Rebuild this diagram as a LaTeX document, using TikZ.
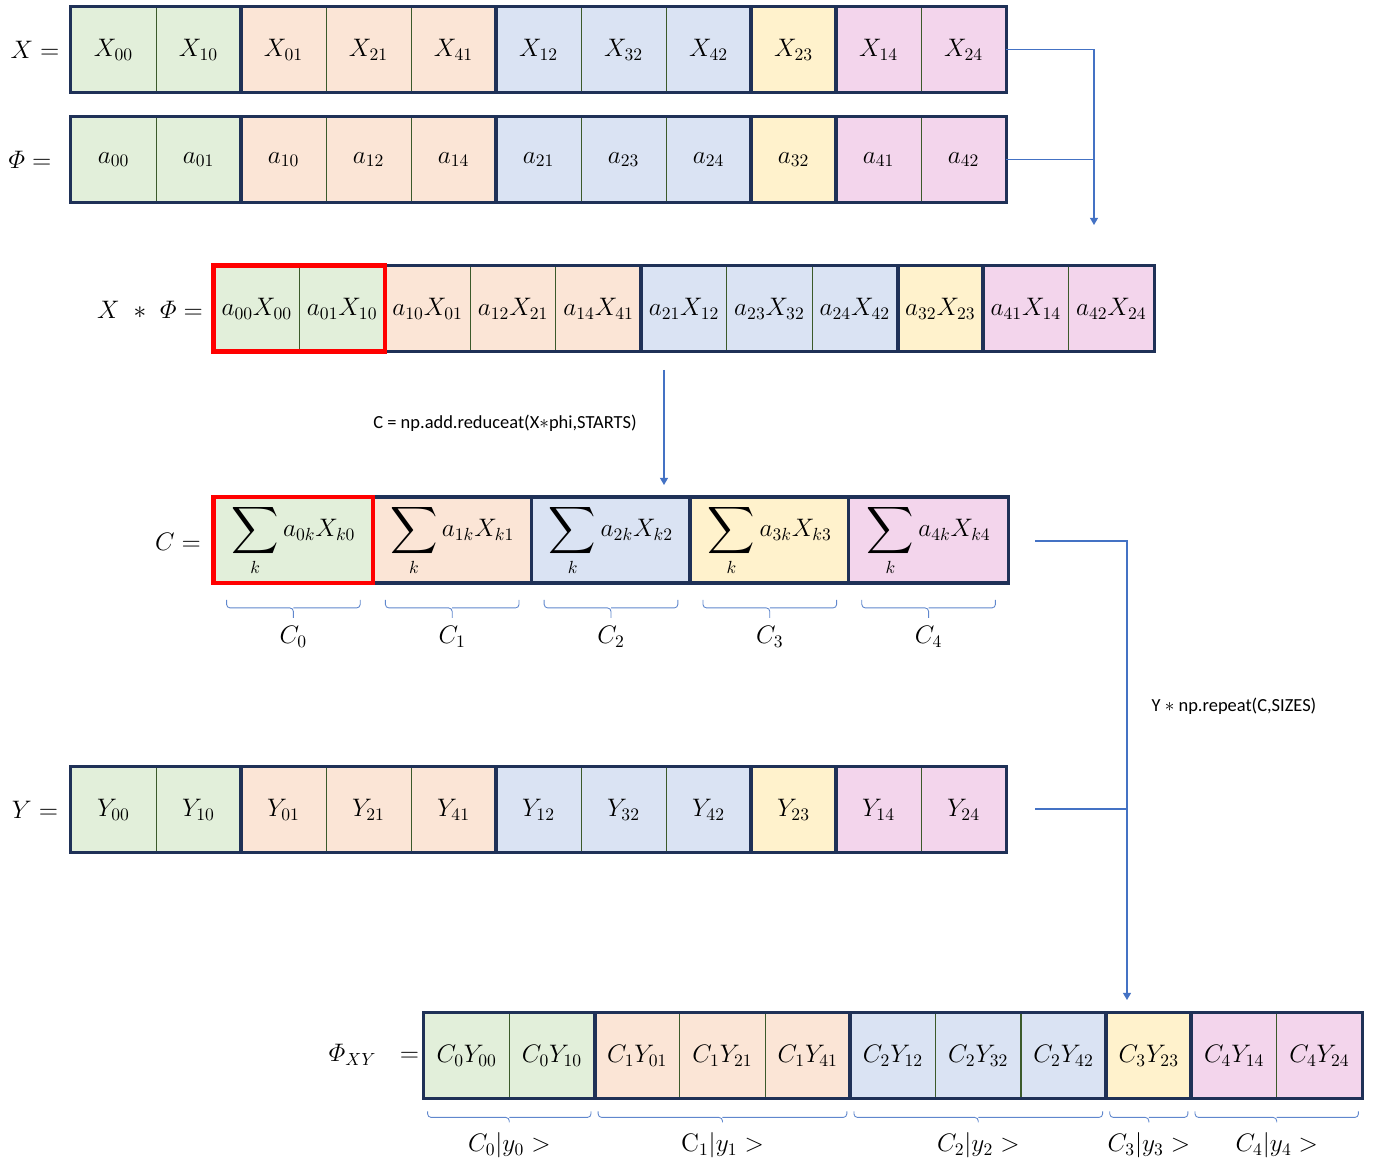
\documentclass[tikz,border=0pt]{standalone}
\usepackage{amsmath}
\usepackage{exscale}
\usepackage{graphicx}
\usepackage{fontspec}
\newfontfamily\lblfont{Carlito}
\usepackage{tikz}
\usetikzlibrary{arrows.meta,calc}

\definecolor{grp0}{HTML}{E2EFDA}
\definecolor{grp1}{HTML}{FBE5D6}
\definecolor{grp2}{HTML}{DAE3F3}
\definecolor{grp3}{HTML}{FFF2CC}
\definecolor{grp4}{HTML}{F3D5EC}
\definecolor{navy}{HTML}{1F3157}
\definecolor{sepline}{HTML}{3B5A2A}
\definecolor{linkblue}{HTML}{4472C4}

\newcommand{\bigsumop}{\mathop{\vcenter{\hbox{\scalebox{1.3}{$\displaystyle\sum$}}}}\limits}

\begin{document}
\begin{tikzpicture}[x=0.02cm, y=-0.02cm, font=\Large,
    cellbox/.style={draw=sepline, line width=0.5pt, inner sep=0pt, minimum height=1.7cm},
    grpbox/.style={draw=navy, line width=1.8pt},
    redbox/.style={draw=red, line width=2.4pt},
    link/.style={draw=linkblue, line width=0.6pt},
    tip/.style={-{Triangle[length=4pt,width=4.5pt]}},
    brc/.style={draw=linkblue!85, line width=0.5pt, rounded corners=2pt},
    lbl/.style={font=\lblfont\fontsize{10.5}{12}\selectfont}]

    \useasboundingbox (0,0) rectangle (1377,1165);

    \node (Xlbl)  at (35, 50)    {$X =$};
    \node (Plbl)  at (30, 160)   {$\varPhi =$};
    \node (XPlbl) at (150, 310)  {$X\ \ast\ \varPhi =$};
    \node (Clbl)  at (178, 542)  {$C =$};
    \node (Ylbl)  at (35, 810)   {$Y =$};
    \node (Flbl)  at (374, 1055) {$\varPhi_{XY}\ \ =$};

    \foreach \k/\g [count=\i] in {0/0,1/0,0/1,2/1,4/1,1/2,3/2,4/2,2/3,1/4,2/4} {
        \node[cellbox, minimum width=1.7cm, fill=grp\g]   (X\i)  at ({28.5+85*\i}, 49.5)        {$X_{\k\g}$};
        \node[cellbox, minimum width=1.7cm, fill=grp\g]   (P\i)  at ({28.5+85*\i}, 159.5)       {$a_{\g\k}$};
        \node[cellbox, minimum width=1.709cm, fill=grp\g] (XP\i) at ({171.3+85.45*\i}, 308.5)   {$a_{\g\k}X_{\k\g}$};
        \node[cellbox, minimum width=1.7cm, fill=grp\g]   (Y\i)  at ({28.5+85*\i}, 809.5)       {$Y_{\k\g}$};
        \node[cellbox, minimum width=1.705cm, fill=grp\g] (F\i)  at ({381.4+85.27*\i}, 1055.5) {$C_{\g}Y_{\k\g}$};
    }

    \foreach \a/\b in {1/2,3/5,6/8,9/9,10/11} {
        \draw[grpbox] (X\a.north west)  rectangle (X\b.south east);
        \draw[grpbox] (P\a.north west)  rectangle (P\b.south east);
        \draw[grpbox] (XP\a.north west) rectangle (XP\b.south east);
        \draw[grpbox] (Y\a.north west)  rectangle (Y\b.south east);
        \draw[grpbox] (F\a.north west)  rectangle (F\b.south east);
    }
    \draw[redbox] (XP1.north west) rectangle (XP2.south east);

    \foreach \g in {0,...,4} {
        \node[cellbox, minimum width=3.176cm, fill=grp\g] (C\g) at ({293.4+158.8*\g}, 540)
            {$\displaystyle\bigsumop_{k} a_{\g k}X_{k\g}$};
        \draw[grpbox] (C\g.north west) rectangle (C\g.south east);
        \draw[brc] ($(C\g.south west)+(13,17)$) |- ($(C\g.south)+(0,25)$) -- ++(0,10);
        \draw[brc] ($(C\g.south east)+(-13,17)$) |- ($(C\g.south)+(0,25)$);
        \node (CL\g) at ($(C\g.south)+(0,54)$) {$C_{\g}$};
    }
    \draw[redbox] (C0.north west) rectangle (C0.south east);

    \foreach \a/\b in {1/2,3/5,6/8,9/9,10/11} {
        \coordinate (bm\a) at ($(F\a.south west)!0.5!(F\b.south east)$);
        \draw[brc] ($(F\a.south west)+(4,13)$) |- ($(bm\a)+(0,19)$) -- ++(0,5);
        \draw[brc] ($(F\b.south east)+(-4,13)$) |- ($(bm\a)+(0,19)$);
    }
    \node (FL0) at ($(bm1)+(0,47)$)  {$C_0|y_0 >$};
    \node (FL1) at ($(bm3)+(0,47)$)  {$\mathrm{C}_1|y_1 >$};
    \node (FL2) at ($(bm6)+(0,47)$)  {$C_2|y_2 >$};
    \node (FL3) at ($(bm9)+(0,47)$)  {$C_3|y_3 >$};
    \node (FL4) at ($(bm10)+(0,47)$) {$C_4|y_4 >$};

    \coordinate (tEnd) at (1094, 225);
    \draw[link, tip] (X11.east) -| (tEnd);
    \draw[link]      (P11.east) -- (P11.east -| tEnd);

    \coordinate (mTop) at (664, 370);
    \coordinate (mBot) at (664, 485);
    \draw[link, tip] (mTop) -- (mBot);
    \node[lbl] (redLbl) at (505, 423) {C = np.add.reduceat(X$\ast$phi,STARTS)};

    \coordinate (cOut) at (1035, 541);
    \coordinate (yOut) at (1035, 809);
    \coordinate (bEnd) at (1127, 1000);
    \draw[link, tip] (cOut) -| (bEnd);
    \draw[link]      (yOut) -- (yOut -| bEnd);
    \node[lbl] (repLbl) at (1234, 706) {Y $\ast$ np.repeat(C,SIZES)};
\end{tikzpicture}
\end{document}
